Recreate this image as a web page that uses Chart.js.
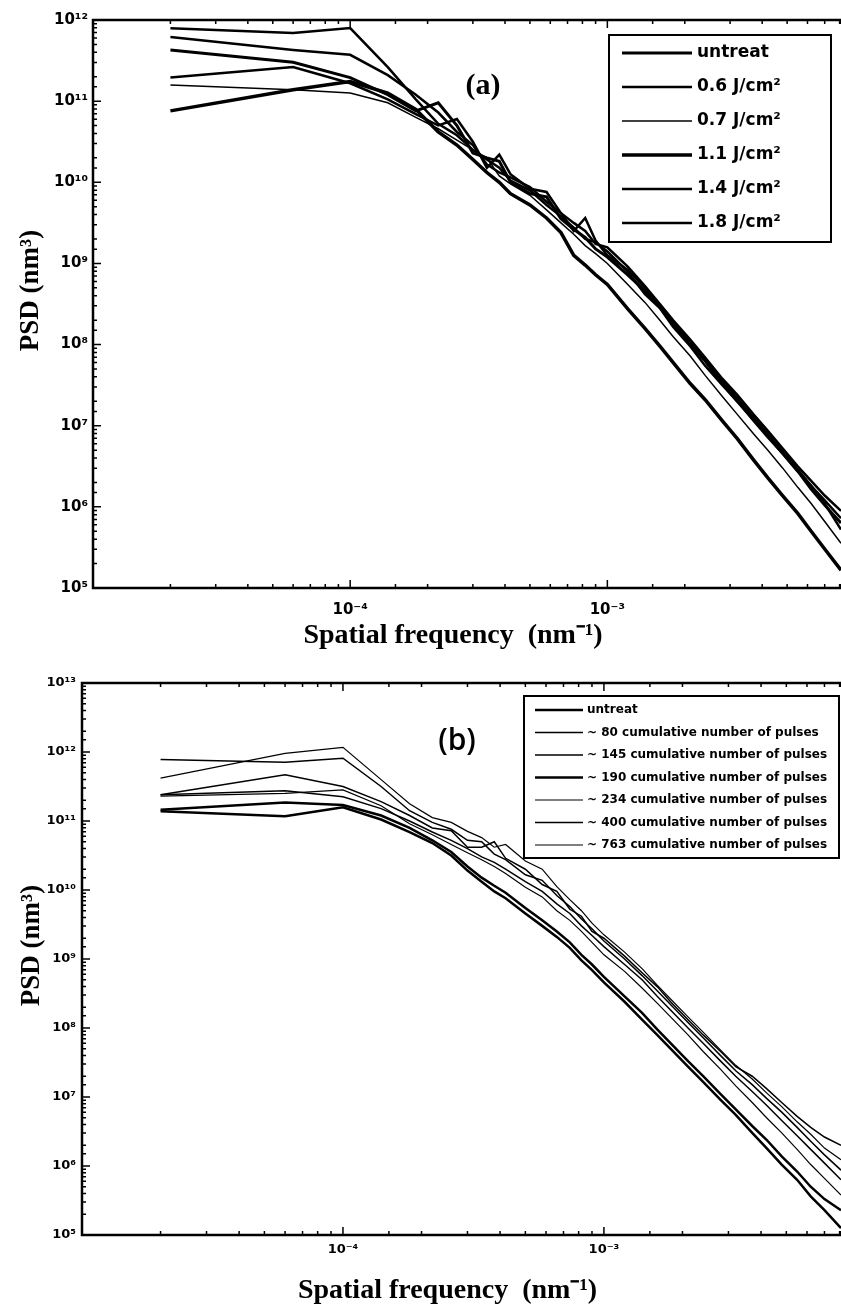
<!DOCTYPE html>
<html>
<head>
<meta charset="utf-8">
<script src="https://cdn.jsdelivr.net/npm/chart.js@4.4.1/dist/chart.umd.min.js"></script>
<style>
  html, body { margin: 0; padding: 0; background: #fff; }
  #wrap { position: relative; width: 841px; height: 1308px; overflow: hidden; }
  canvas { position: absolute; left: 0; }
  #chartA { top: 0; }
  #chartB { top: 662px; }
</style>
</head>
<body>
<div id="wrap">
  <canvas id="chartA" width="841" height="662"></canvas>
  <canvas id="chartB" width="841" height="646"></canvas>
</div>
<script>
'use strict';

// spatial frequency (nm^-1), same sampling read for both panels
const freq = [2e-5, 6e-5, 1e-4, 1.4e-4, 1.8e-4, 2.2e-4, 2.6e-4, 3e-4, 3.4e-4, 3.8e-4, 4.2e-4,
  5e-4, 5.8e-4, 6.6e-4, 7.4e-4, 8.2e-4, 9e-4, 1e-3, 1.2e-3, 1.4e-3, 1.6e-3, 1.8e-3, 2.1e-3,
  2.4e-3, 2.8e-3, 3.2e-3, 3.7e-3, 4.2e-3, 4.8e-3, 5.5e-3, 6.2e-3, 7e-3, 8.1e-3];

// panel (a) - PSD (nm^3) for each fluence
const labelsA = ['untreat', '0.6 J/cm²', '0.7 J/cm²', '1.1 J/cm²', '1.4 J/cm²', '1.8 J/cm²'];
const psdA_untreat = [4.27e11, 3.02e11, 1.95e11, 1.20e11, 7.59e10, 9.55e10, 5.01e10, 2.29e10, 2.00e10, 1.82e10, 1.00e10,
  7.24e9, 6.61e9, 3.55e9, 2.63e9, 2.09e9, 1.51e9, 1.20e9, 7.24e8, 4.57e8, 2.88e8, 1.82e8, 1.00e8,
  6.31e7, 3.31e7, 2.00e7, 1.20e7, 7.59e6, 4.57e6, 2.75e6, 1.66e6, 1.05e6, 6.31e5];
const psdA_06 = [7.94e11, 6.92e11, 7.94e11, 2.63e11, 1.05e11, 5.25e10, 3.80e10, 2.51e10, 1.91e10, 1.51e10, 1.05e10,
  7.94e9, 5.25e9, 3.80e9, 2.75e9, 2.00e9, 1.82e9, 1.41e9, 7.94e8, 4.17e8, 2.82e8, 1.66e8, 9.55e7,
  5.50e7, 3.16e7, 2.00e7, 1.15e7, 7.24e6, 4.57e6, 2.75e6, 1.82e6, 1.20e6, 7.24e5];
const psdA_07 = [1.58e11, 1.38e11, 1.26e11, 9.55e10, 6.31e10, 4.57e10, 3.31e10, 2.51e10, 2.00e10, 1.20e10, 9.55e9,
  6.92e9, 4.57e9, 3.16e9, 2.29e9, 1.66e9, 1.32e9, 1.00e9, 5.50e8, 3.31e8, 2.00e8, 1.26e8, 7.24e7,
  4.17e7, 2.29e7, 1.38e7, 7.94e6, 5.01e6, 3.02e6, 1.74e6, 1.10e6, 6.61e5, 3.55e5];
const psdA_11 = [7.59e10, 1.38e11, 1.74e11, 1.26e11, 7.94e10, 4.17e10, 2.88e10, 1.91e10, 1.32e10, 1.00e10, 7.24e9,
  5.25e9, 3.63e9, 2.40e9, 1.26e9, 9.55e8, 7.24e8, 5.50e8, 2.75e8, 1.58e8, 9.55e7, 6.03e7, 3.31e7,
  2.09e7, 1.15e7, 6.92e6, 3.80e6, 2.29e6, 1.38e6, 8.32e5, 5.01e5, 3.02e5, 1.66e5];
const psdA_14 = [1.95e11, 2.63e11, 1.66e11, 1.05e11, 6.92e10, 5.01e10, 6.03e10, 3.16e10, 1.51e10, 2.19e10, 1.26e10,
  8.32e9, 7.59e9, 4.17e9, 2.51e9, 3.63e9, 1.91e9, 1.26e9, 8.32e8, 5.01e8, 3.02e8, 1.91e8, 1.05e8,
  6.31e7, 3.63e7, 2.19e7, 1.26e7, 7.94e6, 4.79e6, 2.88e6, 1.82e6, 1.10e6, 5.25e5];
const psdA_18 = [6.17e11, 4.27e11, 3.72e11, 2.09e11, 1.20e11, 7.24e10, 4.17e10, 2.88e10, 1.66e10, 1.32e10, 1.15e10,
  8.71e9, 5.75e9, 4.17e9, 3.16e9, 2.51e9, 1.74e9, 1.58e9, 9.12e8, 5.25e8, 3.16e8, 2.00e8, 1.15e8,
  6.92e7, 3.80e7, 2.40e7, 1.38e7, 8.71e6, 5.25e6, 3.16e6, 2.09e6, 1.38e6, 8.91e5];
const widthsA = [3, 2.5, 1.5, 3.5, 2.5, 2.5];

// panel (b) - PSD (nm^3) for each cumulative pulse count
const labelsB = ['untreat', '~ 80 cumulative number of pulses', '~ 145 cumulative number of pulses',
  '~ 190 cumulative number of pulses', '~ 234 cumulative number of pulses',
  '~ 400 cumulative number of pulses', '~ 763 cumulative number of pulses'];
const psdB_untreat = [1.45e11, 1.86e11, 1.70e11, 1.20e11, 7.94e10, 5.25e10, 3.55e10, 2.19e10, 1.51e10, 1.15e10, 9.12e9,
  5.50e9, 3.63e9, 2.51e9, 1.74e9, 1.15e9, 8.32e8, 5.50e8, 2.88e8, 1.66e8, 9.55e7, 6.03e7, 3.31e7,
  2.00e7, 1.10e7, 6.61e6, 3.80e6, 2.40e6, 1.38e6, 8.32e5, 5.01e5, 3.31e5, 2.29e5];
const psdB_80 = [2.40e11, 2.75e11, 2.24e11, 1.51e11, 1.00e11, 6.92e10, 5.25e10, 3.98e10, 3.02e10, 2.51e10, 2.00e10,
  1.32e10, 9.55e9, 6.31e9, 4.57e9, 3.02e9, 2.19e9, 1.51e9, 8.32e8, 5.01e8, 2.88e8, 1.82e8, 1.00e8,
  6.03e7, 3.31e7, 2.00e7, 1.20e7, 7.59e6, 4.57e6, 2.75e6, 1.74e6, 1.10e6, 6.31e5];
const psdB_145 = [7.76e11, 7.08e11, 8.13e11, 3.16e11, 1.41e11, 9.55e10, 7.59e10, 5.25e10, 5.01e10, 3.31e10, 2.75e10,
  1.66e10, 1.38e10, 8.32e9, 5.75e9, 3.80e9, 2.75e9, 1.82e9, 1.00e9, 5.75e8, 3.47e8, 2.19e8, 1.20e8,
  7.24e7, 3.98e7, 2.40e7, 1.51e7, 9.55e6, 6.03e6, 3.63e6, 2.29e6, 1.45e6, 8.71e5];
const psdB_190 = [1.38e11, 1.17e11, 1.58e11, 1.05e11, 6.92e10, 4.79e10, 3.16e10, 1.91e10, 1.32e10, 9.55e9, 7.59e9,
  4.57e9, 3.02e9, 2.09e9, 1.45e9, 9.55e8, 6.92e8, 4.57e8, 2.40e8, 1.32e8, 7.94e7, 5.01e7, 2.75e7,
  1.66e7, 9.12e6, 5.50e6, 3.02e6, 1.82e6, 1.05e6, 6.31e5, 3.63e5, 2.29e5, 1.26e5];
const psdB_234 = [2.29e11, 2.51e11, 2.82e11, 1.66e11, 9.12e10, 6.31e10, 4.57e10, 3.47e10, 2.75e10, 2.19e10, 1.74e10,
  1.10e10, 7.94e9, 5.01e9, 3.63e9, 2.51e9, 1.74e9, 1.15e9, 6.61e8, 3.80e8, 2.29e8, 1.45e8, 7.94e7,
  4.57e7, 2.51e7, 1.45e7, 8.32e6, 5.01e6, 3.02e6, 1.74e6, 1.05e6, 6.61e5, 3.80e5];
const psdB_400 = [2.40e11, 4.68e11, 3.16e11, 1.91e11, 1.20e11, 7.94e10, 7.24e10, 4.17e10, 4.17e10, 5.01e10, 2.88e10,
  2.00e10, 1.20e10, 9.55e9, 5.25e9, 4.17e9, 2.51e9, 2.00e9, 1.10e9, 6.31e8, 3.98e8, 2.40e8, 1.32e8,
  7.94e7, 4.57e7, 2.75e7, 2.00e7, 1.32e7, 8.32e6, 5.25e6, 3.63e6, 2.63e6, 2.00e6];
const psdB_763 = [4.17e11, 9.55e11, 1.17e12, 3.98e11, 1.78e11, 1.12e11, 9.55e10, 7.08e10, 5.75e10, 4.17e10, 4.57e10,
  2.63e10, 2.00e10, 1.12e10, 7.24e9, 5.01e9, 3.31e9, 2.24e9, 1.26e9, 7.24e8, 4.17e8, 2.63e8, 1.45e8,
  8.71e7, 4.79e7, 2.88e7, 1.82e7, 1.15e7, 7.24e6, 4.37e6, 2.88e6, 1.82e6, 1.23e6];
const widthsB = [2.5, 1.5, 1.5, 2.5, 1.2, 1.5, 1.2];

// axis ranges
const xRange = [1e-5, 8.1e-3];
const yRangeA = [1e5, 1e12];
const yRangeB = [1e5, 1e13];

// axis titles (the padding spaces nudge them off-centre like the original)
const xTitle = 'Spatial frequency  (nm⁻¹)    ';
const yTitle = '    PSD (nm³)';

const SUP = {'0': '⁰', '1': '¹', '2': '²', '3': '³', '4': '⁴', '5': '⁵', '6': '⁶', '7': '⁷', '8': '⁸', '9': '⁹', '-': '⁻'};

function isDecade(v) {
  const e = Math.log10(v);
  return Math.abs(e - Math.round(e)) < 1e-6;
}

function decadeLabel(v) {
  if (!isDecade(v)) return '';
  const e = String(Math.round(Math.log10(v)));
  return '10' + e.split('').map(c => SUP[c]).join('');
}

function toPoints(values) {
  return values.map((v, i) => ({x: freq[i], y: v}));
}

function makeDatasets(labels, series, widths) {
  return series.map((s, i) => ({
    label: labels[i],
    data: toPoints(s),
    borderColor: '#000',
    borderWidth: widths[i],
    pointRadius: 0,
    tension: 0,
    fill: false
  }));
}

// draws the inward ticks, the frame, the boxed legend and the panel tag
const paperFrame = {
  id: 'paperFrame',
  afterDraw(chart, args, opts) {
    const {ctx, chartArea: a, scales: {x, y}} = chart;
    ctx.save();
    ctx.strokeStyle = '#000';
    ctx.lineWidth = 1.5;
    ctx.beginPath();
    x.ticks.forEach(t => {
      const px = x.getPixelForValue(t.value);
      if (px <= a.left + 1 || px > a.right) return;
      const len = isDecade(t.value) ? 8 : 4;
      ctx.moveTo(px, a.bottom); ctx.lineTo(px, a.bottom - len);
      ctx.moveTo(px, a.top); ctx.lineTo(px, a.top + len);
    });
    y.ticks.forEach(t => {
      const py = y.getPixelForValue(t.value);
      if (py < a.top - 1 || py > a.bottom + 1) return;
      const len = isDecade(t.value) ? 8 : 4;
      ctx.moveTo(a.left, py); ctx.lineTo(a.left + len, py);
    });
    ctx.stroke();

    ctx.lineWidth = 2.5;
    ctx.beginPath();
    ctx.moveTo(a.right, a.top);
    ctx.lineTo(a.left, a.top);
    ctx.lineTo(a.left, a.bottom);
    ctx.lineTo(a.right, a.bottom);
    ctx.stroke();

    // legend
    const L = opts.legend;
    ctx.fillStyle = '#fff';
    ctx.fillRect(L.left, L.top, L.width, L.height);
    ctx.lineWidth = 2;
    ctx.strokeRect(L.left, L.top, L.width, L.height);
    ctx.font = L.font;
    ctx.fillStyle = '#000';
    ctx.textBaseline = 'middle';
    ctx.textAlign = 'left';
    chart.data.datasets.forEach((ds, i) => {
      const ry = L.firstRow + i * L.rowGap;
      ctx.lineWidth = ds.borderWidth;
      ctx.beginPath();
      ctx.moveTo(L.lineX0, ry);
      ctx.lineTo(L.lineX1, ry);
      ctx.stroke();
      ctx.fillText(ds.label, L.textX, ry);
    });

    // panel tag
    ctx.font = opts.tag.font;
    ctx.textAlign = 'center';
    ctx.fillText(opts.tag.text, opts.tag.x, opts.tag.y);
    ctx.restore();
  }
};

function makeChart(el, datasets, cfg) {
  return new Chart(el, {
    type: 'line',
    data: {datasets: datasets},
    plugins: [paperFrame],
    options: {
      responsive: false,
      animation: false,
      devicePixelRatio: 1,
      layout: {padding: {top: cfg.top, right: 0, left: 0, bottom: 0}},
      plugins: {
        legend: {display: false},
        tooltip: {enabled: false},
        paperFrame: {legend: cfg.legend, tag: cfg.tag}
      },
      scales: {
        x: {
          type: 'logarithmic',
          min: xRange[0],
          max: xRange[1],
          afterFit: s => {
            s.height = cfg.xHeight;
            s.paddingLeft = 0;
            s.paddingRight = 0;
          },
          grid: {display: false, drawTicks: false},
          border: {display: false},
          ticks: {
            autoSkip: false,
            maxRotation: 0,
            padding: cfg.xPad,
            color: '#000',
            font: {family: 'DejaVu Sans', size: cfg.tickSize, weight: 'bold'},
            callback: v => (v <= xRange[0] * 1.0001 ? '' : decadeLabel(v))
          },
          title: {
            display: true,
            text: xTitle,
            color: '#000',
            padding: {top: 0, bottom: cfg.xTitlePad},
            font: {family: 'Liberation Serif', size: 28, weight: 'bold'}
          }
        },
        y: {
          type: 'logarithmic',
          min: cfg.yRange[0],
          max: cfg.yRange[1],
          afterFit: s => { s.width = cfg.yWidth; },
          grid: {display: false, drawTicks: false},
          border: {display: false},
          ticks: {
            autoSkip: false,
            padding: cfg.yPad,
            color: '#000',
            font: {family: 'DejaVu Sans', size: cfg.tickSize, weight: 'bold'},
            callback: v => decadeLabel(v)
          },
          title: {
            display: true,
            text: yTitle,
            color: '#000',
            padding: {top: cfg.yTitlePad, bottom: 0},
            font: {family: 'Liberation Serif', size: 27, weight: 'bold'}
          }
        }
      }
    }
  });
}

makeChart(document.getElementById('chartA'),
  makeDatasets(labelsA, [psdA_untreat, psdA_06, psdA_07, psdA_11, psdA_14, psdA_18], widthsA),
  {
    top: 20, xHeight: 74, yWidth: 93, xPad: 13, yPad: 5, xTitlePad: 9, yTitlePad: 15,
    tickSize: 15, yRange: yRangeA,
    legend: {left: 609, top: 35, width: 222, height: 207, firstRow: 53, rowGap: 34,
      lineX0: 622, lineX1: 692, textX: 697, font: 'bold 17px "DejaVu Sans"'},
    tag: {text: '(a)', x: 483, y: 86, font: 'bold 30px "Liberation Serif"'}
  });

makeChart(document.getElementById('chartB'),
  makeDatasets(labelsB, [psdB_untreat, psdB_80, psdB_145, psdB_190, psdB_234, psdB_400, psdB_763], widthsB),
  {
    top: 21, xHeight: 73, yWidth: 82, xPad: 7, yPad: 6, xTitlePad: 0, yTitlePad: 16,
    tickSize: 13, yRange: yRangeB,
    legend: {left: 524, top: 34, width: 315, height: 162, firstRow: 48, rowGap: 22.5,
      lineX0: 535, lineX1: 583, textX: 587, font: 'bold 12px "DejaVu Sans"'},
    tag: {text: '(b)', x: 457, y: 79, font: '600 30px "Open Sans"'}
  });
</script>
</body>
</html>
